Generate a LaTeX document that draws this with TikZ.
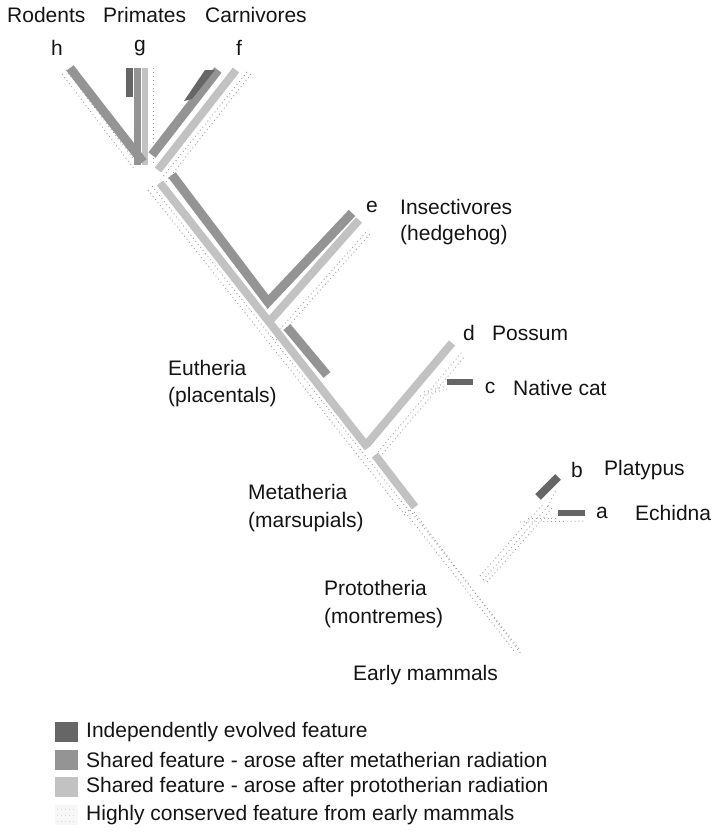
\documentclass[tikz,border=0pt]{standalone}
\usepackage{fontspec}
\setmainfont{Liberation Sans}
\definecolor{cIndep}{gray}{0.40}
\definecolor{cMeta}{gray}{0.58}
\definecolor{cProto}{gray}{0.76}
\definecolor{cCons}{gray}{0.62}
\definecolor{cText}{gray}{0.08}
\begin{document}
\begin{tikzpicture}[x=1pt,y=-1pt,
  lbl/.style={font=\fontsize{21}{24}\selectfont, text=cText, inner sep=0pt, anchor=west},
  lblc/.style={lbl, anchor=center},
  strip/.style={line cap=butt, line join=miter},
  indep/.style={strip, draw=cIndep, line width=8pt},
  meta/.style={strip, draw=cMeta, line width=9pt},
  proto/.style={strip, draw=cProto, line width=8pt},
  cons/.style={draw=cCons, line width=0.9pt, dash pattern=on 0.9pt off 3pt, line cap=butt},
  swatch/.style={minimum width=23pt, minimum height=20pt, inner sep=0pt, draw=none}
]
\useasboundingbox (0,0) rectangle (716,835);

% ---------- conserved (early mammals) layer ----------
\draw[cons] (62,74) -- (135,170);
\draw[cons] (66,70) -- (139,166);
\draw[cons] (153,68) -- (153,162);
\draw[cons] (247,72) -- (162,178);
\draw[cons] (251,74) -- (166,182);
\draw[cons] (148,190) -- (405,515);
\draw[cons] (152,186) -- (409,511);
\draw[cons] (405,512) -- (515,652);
\draw[cons] (410,510) -- (520,650);
\draw[cons] (414,512) -- (522,655);
\draw[cons] (272,338) -- (368,230);
\draw[cons] (276,340) -- (370,234);
\draw[cons] (378,452) -- (462,352);
\draw[cons] (380,457) -- (465,356);
\draw[cons] (420,396) -- (447,389);
\draw[cons] (424,392) -- (447,386);
\draw[cons] (483,580) -- (548,506);
\draw[cons] (487,582) -- (552,508);
\draw[cons] (480,576) -- (543,504);
\draw[cons] (520,522) -- (586,521);
\draw[cons] (528,518) -- (558,518);
\draw[cons] (548,506) -- (556,490);

% ---------- shared after prototherian radiation ----------
\draw[proto] (160,183) -- (368,448);
\draw[proto] (268,323) -- (359,220);
\draw[proto] (367,444) -- (452,343);
\draw[proto] (375,455) -- (415,507);
\draw[proto, line width=6pt] (145,68) -- (145,165);
\draw[proto] (236,70) -- (158,170);

% ---------- shared after metatherian radiation ----------
\draw[meta] (172,175) -- (268,302) -- (352,213);
\draw[meta] (287,327) -- (327,375);
\draw[meta] (70,68) -- (143,162);
\draw[meta, line width=7pt] (137.5,68) -- (137.5,165);
\draw[meta] (218,70) -- (152,155);

% ---------- independently evolved ----------
\draw[indep, line width=7pt] (129.5,68) -- (129.5,97);
\fill[cIndep] (205,70) -- (215,70) -- (192,99) -- (184,101) -- cycle;
\draw[indep, line width=6pt] (447,382) -- (473,382);
\draw[indep] (538,497) -- (558,477);
\draw[indep, line width=6pt] (558,513) -- (585,513);

% ---------- labels ----------
\node[lbl] (rod) at (7,15) {Rodents};
\node[lbl] (pri) at (103,15) {Primates};
\node[lbl] (car) at (205,15) {Carnivores};
\node[lblc] (h) at (57,48) {h};
\node[lblc] (g) at (140,48) {g};
\node[lblc] (f) at (239,48) {f};
\node[lblc] (e) at (372,207) {e};
\node[lbl] (ins) at (400,207) {Insectivores};
\node[lbl] (hed) at (400,235) {(hedgehog)};
\node[lblc] (d) at (469,333) {d};
\node[lbl] (pos) at (492,333) {Possum};
\node[lblc] (c) at (490,388) {c};
\node[lbl] (nat) at (513,388) {Native cat};
\node[lblc] (b) at (577,470) {b};
\node[lbl] (pla) at (604,470) {Platypus};
\node[lblc] (a) at (602,513) {a};
\node[lbl] (ech) at (635,513) {Echidna};
\node[lbl] (eut) at (168,368) {Eutheria};
\node[lbl] (pla2) at (168,397) {(placentals)};
\node[lbl] (met) at (248,492) {Metatheria};
\node[lbl] (mar) at (248,522) {(marsupials)};
\node[lbl] (pro) at (324,588) {Prototheria};
\node[lbl] (mon) at (324,618) {(montremes)};
\node[lbl] (ear) at (353,675) {Early mammals};

% ---------- legend ----------
\node[swatch, fill=cIndep] (s1) at (66.5,732) {};
\node[swatch, fill=cMeta] (s2) at (66.5,760) {};
\node[swatch, fill=cProto] (s3) at (66.5,787) {};
\node[swatch, fill=gray!6] (s4) at (66.5,815) {};
\draw[cons, gray!30] (57,809) -- (76,809) (57,815) -- (76,815) (57,821) -- (76,821);
\node[lbl] (l1) at (86,732) {Independently evolved feature};
\node[lbl] (l2) at (86,760) {Shared feature - arose after metatherian radiation};
\node[lbl] (l3) at (86,787) {Shared feature - arose after prototherian radiation};
\node[lbl] (l4) at (86,815) {Highly conserved feature from early mammals};
\end{tikzpicture}
\end{document}
